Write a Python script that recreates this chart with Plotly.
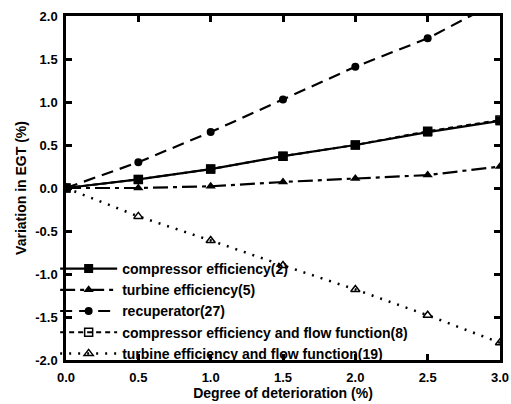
import plotly.graph_objects as go

x_vals = [0.0, 0.5, 1.0, 1.5, 2.0, 2.5, 3.0]
compressor_eff = [0.0, 0.10, 0.22, 0.37, 0.50, 0.65, 0.78]
turbine_eff = [0.0, 0.00, 0.02, 0.07, 0.11, 0.15, 0.25]
recuperator = [0.0, 0.30, 0.65, 1.03, 1.41, 1.74, 2.18]
compressor_flow = [0.0, 0.10, 0.22, 0.37, 0.50, 0.66, 0.79]
turbine_flow = [0.0, -0.33, -0.61, -0.90, -1.18, -1.48, -1.80]

names = [
    "compressor efficiency(2)",
    "turbine efficiency(5)",
    "recuperator(27)",
    "compressor efficiency and flow function(8)",
    "turbine efficiency and flow function(19)",
]
x_ticks = [0.0, 0.5, 1.0, 1.5, 2.0, 2.5, 3.0]
y_ticks = [-2.0, -1.5, -1.0, -0.5, 0.0, 0.5, 1.0, 1.5, 2.0]

FONT = "Liberation Sans, Arial, sans-serif"


def b(s):
    return f"<b>{s}</b>"


fig = go.Figure()
fig.add_trace(go.Scatter(x=x_vals, y=compressor_eff, name=b(names[0]), mode="lines+markers",
                         line=dict(color="black", width=2.2),
                         marker=dict(symbol="square", size=9, color="black")))
fig.add_trace(go.Scatter(x=x_vals, y=turbine_eff, name=b(names[1]), mode="lines+markers",
                         line=dict(color="black", width=2.2, dash="15px,5px,4px,5px"),
                         marker=dict(symbol="triangle-up", size=9, color="black")))
fig.add_trace(go.Scatter(x=x_vals, y=recuperator, name=b(names[2]), mode="lines+markers",
                         line=dict(color="black", width=2.2, dash="12px,7px"),
                         marker=dict(symbol="circle", size=8, color="black")))
fig.add_trace(go.Scatter(x=x_vals, y=compressor_flow, name=b(names[3]), mode="lines+markers",
                         line=dict(color="black", width=2, dash="5px,4px"),
                         marker=dict(symbol="square-open", size=8, color="black",
                                     line=dict(width=1.5, color="black"))))
fig.add_trace(go.Scatter(x=x_vals, y=turbine_flow, name=b(names[4]), mode="lines+markers",
                         line=dict(color="black", width=2.5, dash="2px,7px"),
                         marker=dict(symbol="triangle-up-open", size=8, color="black",
                                     line=dict(width=1.5, color="black"))))

axis_common = dict(
    showline=True, linecolor="black", linewidth=2.5, mirror="ticks",
    ticks="inside", ticklen=6, tickwidth=2.5, tickcolor="black",
    showgrid=False, zeroline=False, automargin=False,
    tickfont=dict(family=FONT, size=13, color="black"),
)

fig.update_layout(
    width=511, height=404,
    margin=dict(l=66, r=11, t=16, b=44),
    paper_bgcolor="white", plot_bgcolor="white",
    xaxis=dict(range=[0, 3], tickvals=x_ticks, ticktext=[b(f"{v:.1f}") for v in x_ticks],
               ticklabelstandoff=4,
               title=dict(text=b("Degree of deterioration (%)"), standoff=4,
                          font=dict(family=FONT, size=14, color="black")),
               **axis_common),
    yaxis=dict(range=[-2, 2], tickvals=y_ticks, ticktext=[b(f"{v:.1f}") for v in y_ticks],
               ticklabelstandoff=3,
               title=dict(text=b("Variation in EGT (%)"), standoff=6,
                          font=dict(family=FONT, size=14, color="black")),
               **axis_common),
    legend=dict(x=-0.025, y=0.311, xanchor="left", yanchor="top",
                bgcolor="rgba(0,0,0,0)", itemwidth=57, tracegroupgap=0,
                font=dict(family=FONT, size=14, color="black")),
    showlegend=True,
)

fig.write_html("out.html")
